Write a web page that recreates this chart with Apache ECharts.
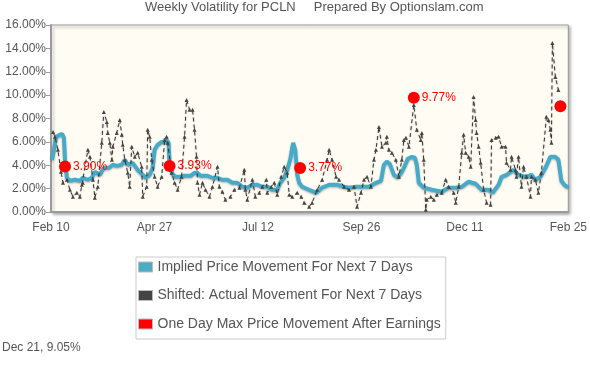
<!DOCTYPE html>
<html>
<head>
<meta charset="utf-8">
<script src="https://cdn.jsdelivr.net/npm/echarts@6/dist/echarts.min.js"></script>
<style>
  html, body { margin: 0; padding: 0; background: #ffffff; }
  #chart { width: 590px; height: 370px; }
</style>
</head>
<body>
<div id="chart"></div>
<script>
// ---- data (x = days since Feb 10, y = percent) ----
var xTickLabels = ['Feb 10', 'Apr 27', 'Jul 12', 'Sep 26', 'Dec 11', 'Feb 25'];
var xTickStep = 76;
var yTickStep = 2;

var impliedMove = [
  [0.7,4.47],[2.2,5.32],[3.7,6.43],[5.1,6.60],[8.1,6.69],[9.5,6.35],[10.3,4.47],[11.7,2.93],
  [13.9,2.67],[17.6,2.76],[21.2,2.67],[23.4,2.93],[27.1,2.76],[30.0,2.93],[32.2,3.44],[35.9,3.18],
  [38.8,3.78],[42.5,3.78],[45.4,4.04],[48.3,3.95],[52.0,4.04],[54.2,4.47],[56.4,4.04],[60.0,4.21],
  [63.7,3.61],[67.4,3.18],[69.6,2.93],[72.5,3.18],[74.7,3.78],[76.1,5.32],[78.3,5.75],[81.3,6.00],
  [83.5,6.00],[84.2,6.26],[86.4,5.92],[87.1,4.04],[89.3,3.27],[91.5,3.01],[95.2,3.01],[98.1,3.10],
  [102.5,3.10],[105.4,3.35],[107.6,3.35],[109.8,3.10],[115.0,3.10],[118.6,2.93],[122.3,2.93],[125.9,2.76],
  [129.6,2.76],[133.3,2.50],[136.9,2.50],[140.6,2.16],[144.2,2.08],[147.9,2.33],[151.6,2.33],[155.2,2.16],
  [158.9,2.16],[162.5,1.90],[166.2,1.90],[168.4,2.50],[171.3,2.93],[173.5,3.61],[175.7,4.47],[177.2,5.49],
  [177.9,5.92],[179.4,5.32],[180.9,3.18],[182.3,2.50],[184.5,2.16],[189.6,1.90],[194.8,1.65],[199.2,2.08],
  [204.3,2.33],[210.1,2.33],[215.3,2.16],[218.9,2.08],[224.1,2.16],[229.2,2.16],[233.6,2.16],[238.7,2.50],
  [242.4,2.67],[244.5,4.04],[246.7,4.30],[248.9,4.12],[251.9,3.18],[254.8,2.93],[257.7,3.44],[259.9,3.95],
  [262.1,4.55],[265.1,4.72],[267.3,4.64],[268.7,4.04],[270.2,2.50],[273.8,2.08],[279.7,1.90],[287.0,1.73],
  [292.1,2.08],[297.3,2.08],[301.7,2.16],[306.8,2.59],[311.9,2.42],[316.3,1.90],[321.4,1.90],[324.4,1.65],
  [328.8,2.33],[331.0,3.01],[334.6,3.18],[339.7,3.61],[343.4,3.18],[348.5,3.01],[352.9,3.18],[355.8,2.76],
  [359.5,3.01],[363.2,3.78],[366.8,4.72],[370.5,4.72],[372.7,4.47],[374.9,2.67],[377.1,2.33],[380.0,2.08]
];

var actualMove = [
  [1.5,6.85],[2.9,6.43],[5.1,5.32],[7.3,3.44],[8.8,2.50],[11.7,2.76],[13.9,1.90],[16.1,1.31],
  [19.0,1.65],[21.2,1.31],[22.7,2.33],[23.4,2.50],[27.1,5.32],[28.6,4.72],[30.8,2.76],[32.2,1.22],
  [34.4,2.16],[37.3,5.92],[38.8,8.56],[41.0,7.71],[41.7,6.77],[43.2,5.92],[44.7,4.47],[45.4,5.58],
  [48.3,6.77],[50.5,7.88],[52.0,6.60],[52.7,5.75],[54.2,4.47],[56.4,3.35],[57.8,2.16],[59.3,5.58],
  [61.5,4.72],[63.7,5.06],[66.6,3.87],[67.4,1.31],[70.3,2.16],[71.0,7.03],[72.5,6.43],[74.0,4.47],
  [76.1,3.01],[78.3,2.16],[81.3,3.01],[83.5,6.17],[84.9,6.43],[85.7,5.92],[88.6,3.35],[90.8,2.50],
  [93.0,1.90],[95.9,3.01],[98.1,6.43],[99.6,9.59],[101.8,8.74],[104.0,8.74],[105.4,7.03],[106.9,4.72],
  [107.6,2.50],[109.1,1.48],[111.3,2.50],[113.5,1.90],[116.4,1.31],[118.6,2.16],[122.3,3.87],[123.7,2.16],
  [125.9,1.73],[128.1,1.05],[131.8,1.31],[134.7,1.90],[138.4,2.08],[142.0,3.61],[142.8,1.90],[144.2,1.05],
  [147.9,2.76],[150.1,1.31],[153.0,1.65],[155.2,2.16],[158.2,2.76],[158.9,1.65],[161.8,2.16],[164.0,2.50],
  [166.2,1.48],[169.1,3.01],[171.3,3.87],[173.5,3.35],[175.0,1.48],[177.2,1.31],[180.9,1.65],[183.8,1.31],
  [186.0,0.79],[189.6,0.45],[191.8,0.79],[195.5,1.90],[199.2,2.76],[202.8,4.47],[204.3,5.32],[206.5,4.47],
  [209.4,3.01],[211.6,2.76],[215.3,2.16],[218.9,1.90],[222.6,2.16],[224.8,0.45],[227.7,1.65],[229.9,2.76],
  [232.1,3.01],[235.0,2.16],[237.2,4.47],[238.7,5.32],[240.9,7.28],[243.1,5.58],[246.0,5.92],[246.7,6.43],
  [248.2,5.32],[250.4,5.06],[253.3,4.47],[255.5,3.01],[257.7,4.47],[259.2,6.17],[260.7,6.35],[262.9,5.58],
  [266.5,9.16],[268.7,7.03],[271.6,6.17],[272.4,6.77],[273.8,4.47],[275.3,0.20],[276.0,1.05],[279.0,1.31],
  [281.2,1.05],[283.4,1.48],[287.0,1.65],[289.9,2.76],[292.1,2.16],[295.8,1.65],[297.3,0.79],[299.5,2.16],
  [301.7,5.06],[303.1,6.60],[304.6,5.06],[306.8,4.72],[308.3,3.87],[310.4,9.85],[311.9,7.88],[312.6,6.77],
  [314.1,5.58],[315.6,4.21],[317.8,1.90],[320.0,0.79],[322.9,0.62],[323.6,6.17],[326.6,6.35],[328.8,6.43],
  [331.0,5.58],[333.9,5.58],[334.6,4.21],[337.5,3.61],[338.3,4.72],[341.2,3.61],[341.9,3.01],[343.4,4.72],
  [345.6,2.16],[347.1,3.87],[349.3,3.01],[352.2,1.31],[352.9,3.01],[355.8,2.76],[358.0,1.65],[360.2,3.35],
  [363.9,8.14],[365.4,7.88],[366.8,7.03],[367.6,5.92],[368.3,14.46],[370.5,11.55],[372.7,10.44]
];

var earningsDays = [10.3, 87.1, 183.0, 266.5, 374.2];
var earningsMove = [3.90, 3.93, 3.77, 9.77, 9.05];
var earningsLabelShown = [true, true, true, true, false];

var titleText = 'Weekly Volatility for PCLN     Prepared By Optionslam.com';
var footerText = 'Dec 21, 9.05%';
var seriesNames = ['Implied Price Movement For Next 7 Days',
                   'Shifted: Actual Movement For Next 7 Days',
                   'One Day Max Price Movement After Earnings'];

// ---- chart ----
var FONT = 'Liberation Sans, Arial, sans-serif';
var TXT = '#555555';

var earningsData = earningsDays.map(function (d, i) {
  return { value: [d, earningsMove[i]], label: { show: earningsLabelShown[i] } };
});

var chart = echarts.init(document.getElementById('chart'), null, { renderer: 'canvas' });
chart.setOption({
  animation: false,
  backgroundColor: '#ffffff',
  title: {
    text: titleText,
    left: 145,
    top: 1,
    padding: 0,
    textStyle: { fontFamily: FONT, fontSize: 13, fontWeight: 'normal', color: TXT }
  },
  grid: {
    left: 51, right: 20, top: 25, bottom: 158,
    show: true,
    backgroundColor: '#fffcf3',
    borderColor: '#9a9a9a',
    borderWidth: 1,
    shadowColor: 'rgba(0,0,0,0.35)',
    shadowBlur: 3,
    shadowOffsetX: 2,
    shadowOffsetY: 2
  },
  xAxis: {
    type: 'value',
    min: 0, max: xTickStep * (xTickLabels.length - 1), interval: xTickStep,
    axisLine: { show: true, lineStyle: { color: '#9a9a9a', width: 2 } },
    axisTick: { show: false },
    splitLine: { show: false },
    axisLabel: {
      color: TXT, fontFamily: FONT, fontSize: 12, margin: 10,
      formatter: function (v) { return xTickLabels[Math.round(v / xTickStep)] || ''; }
    }
  },
  yAxis: {
    type: 'value',
    min: 0, max: 16, interval: yTickStep,
    axisLine: { show: true, lineStyle: { color: '#9a9a9a', width: 2 } },
    axisTick: { show: true, length: 5, lineStyle: { color: '#9a9a9a' } },
    splitLine: { show: false },
    axisLabel: {
      color: TXT, fontFamily: FONT, fontSize: 12, margin: 5,
      formatter: function (v) { return v.toFixed(2) + '%'; }
    }
  },
  legend: {
    orient: 'vertical',
    left: 136, top: 257,
    padding: [3, 5, 8, 2],
    itemWidth: 14, itemHeight: 10, itemGap: 14.5,
    backgroundColor: '#ffffff',
    borderColor: '#cccccc', borderWidth: 1,
    icon: 'rect',
    itemStyle: { borderColor: '#bbbbbb', borderWidth: 1, opacity: 1 },
    textStyle: { color: TXT, fontFamily: FONT, fontSize: 14, lineHeight: 14 },
    data: seriesNames
  },
  graphic: [{
    type: 'text', left: 2, top: 342,
    style: { text: footerText, fill: TXT, font: '12px ' + FONT }
  }],
  series: [
    {
      name: seriesNames[0], type: 'line', data: impliedMove,
      showSymbol: false, symbol: 'none', z: 2,
      color: '#4bacc6',
      lineStyle: { color: '#46abc8', width: 4, shadowColor: 'rgba(0,0,0,0.3)', shadowBlur: 2, shadowOffsetY: 1 }
    },
    {
      name: seriesNames[1], type: 'line', data: actualMove,
      symbol: 'triangle', symbolSize: 4, showSymbol: true, z: 3,
      color: '#555555',
      itemStyle: { color: '#444444' },
      lineStyle: { color: '#333333', width: 1, type: [4, 3], shadowColor: 'rgba(0,0,0,0.3)', shadowBlur: 2 }
    },
    {
      name: seriesNames[2], type: 'scatter', data: earningsData,
      symbol: 'circle', symbolSize: 12, z: 4,
      color: '#ff0000',
      itemStyle: { color: '#ff0000', opacity: 1 },
      label: {
        show: true, position: 'right', distance: 2,
        color: '#ff0000', fontFamily: FONT, fontSize: 12,
        formatter: function (p) { return p.value[1].toFixed(2) + '%'; }
      }
    }
  ]
});
</script>
</body>
</html>
